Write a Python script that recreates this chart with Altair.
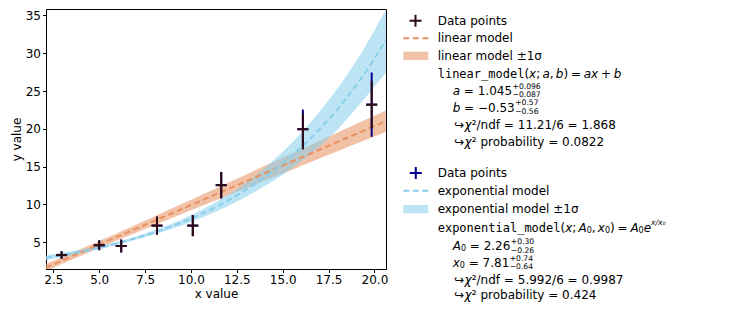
import altair as alt
import pandas as pd

# ---------------- data ----------------
x_pts = [2.95, 5.0, 6.2, 8.15, 10.1, 11.65, 16.1, 19.85]
y_pts = [3.3, 4.6, 4.5, 7.2, 7.2, 12.55, 19.95, 23.2]
x_err = [0.3, 0.3, 0.3, 0.3, 0.3, 0.3, 0.3, 0.3]
lin_err_up = [0.5, 0.65, 0.85, 1.2, 1.4, 1.75, 2.1, 3.1]
lin_err_dn = [0.5, 0.65, 0.85, 1.2, 1.4, 1.75, 2.65, 3.1]
exp_err_up = [0.5, 0.65, 0.85, 1.2, 1.4, 1.75, 2.6, 4.25]
exp_err_dn = [0.5, 0.65, 0.85, 1.2, 1.4, 1.75, 2.65, 4.25]

curve_x = [2.1, 4, 6, 8, 10, 12, 14, 16, 18, 19.3, 20.65]
lin_mid = [1.66, 3.65, 5.74, 7.83, 9.92, 12.01, 14.10, 16.19, 18.28, 19.64, 21.05]
lin_lo = [1.20, 3.21, 5.26, 7.25, 9.22, 11.18, 13.13, 15.09, 17.04, 18.31, 19.65]
lin_hi = [2.12, 4.09, 6.22, 8.41, 10.62, 12.84, 15.07, 17.29, 19.52, 20.97, 22.45]
exp_mid = [2.96, 3.77, 4.87, 6.30, 8.13, 10.50, 13.57, 17.53, 22.65, 26.76, 31.8]
exp_lo = [2.63, 3.55, 4.67, 6.02, 7.68, 9.75, 12.4, 15.65, 19.95, 23.5, 27.5]
exp_hi = [3.29, 3.99, 5.07, 6.58, 8.58, 11.25, 14.8, 19.45, 25.4, 30.1, 35.9]

x_ticks = [2.5, 5, 7.5, 10, 12.5, 15, 17.5, 20]
y_ticks = [5, 10, 15, 20, 25, 30, 35]

# ---------------- styles ----------------
DARK = "#2e0a12"
NAVY = "#00008b"
ORANGE_LINE = "#e8905f"
ORANGE_FILL = "#e8905f"
BLUE_LINE = "#87ceeb"
BLUE_FILL = "#87ceeb"
FILL_OP = 0.55
FONT = "DejaVu Sans"
MONO = "DejaVu Sans Mono"

W_PX, H_PX = 340, 260

pts = pd.DataFrame({"x": x_pts, "y": y_pts, "xe": x_err,
                    "lu": lin_err_up, "ld": lin_err_dn,
                    "eu": exp_err_up, "ed": exp_err_dn})
pts["xlo"] = pts["x"] - pts["xe"]
pts["xhi"] = pts["x"] + pts["xe"]
pts["lin_ylo"] = pts["y"] - pts["ld"]
pts["lin_yhi"] = pts["y"] + pts["lu"]
pts["exp_ylo"] = pts["y"] - pts["ed"]
pts["exp_yhi"] = pts["y"] + pts["eu"]

curves = pd.DataFrame({"x": curve_x, "lin_mid": lin_mid, "lin_lo": lin_lo, "lin_hi": lin_hi,
                       "exp_mid": exp_mid, "exp_lo": exp_lo, "exp_hi": exp_hi})

xs = alt.Scale(domain=[2.1, 20.63], nice=False, zero=False)
ys = alt.Scale(domain=[1.46, 35.85], nice=False, zero=False)
xaxis = alt.Axis(values=x_ticks, format=".1f", title="x value", labelPadding=2, titlePadding=3)
yaxis = alt.Axis(values=y_ticks, format="d", title="y value", labelPadding=2, titlePadding=2)


def X(f):
    return alt.X(f"{f}:Q", scale=xs, axis=xaxis, title="x value")


def Y(f):
    return alt.Y(f"{f}:Q", scale=ys, axis=yaxis, title="y value")


base_c = alt.Chart(curves)
base_p = alt.Chart(pts)

lin_band = base_c.mark_area(color=ORANGE_FILL, opacity=FILL_OP, clip=True, interpolate="monotone").encode(
    x=X("x"), y=Y("lin_lo"), y2="lin_hi:Q")
exp_band = base_c.mark_area(color=BLUE_FILL, opacity=FILL_OP, clip=True, interpolate="monotone").encode(
    x=X("x"), y=Y("exp_lo"), y2="exp_hi:Q")
lin_line = base_c.mark_line(color=ORANGE_LINE, strokeWidth=2, strokeDash=[6, 3.5], clip=True).encode(
    x=X("x"), y=Y("lin_mid"))
exp_line = base_c.mark_line(color=BLUE_LINE, strokeWidth=2, strokeDash=[6, 3.5], clip=True,
                            interpolate="monotone").encode(x=X("x"), y=Y("exp_mid"))

exp_v = base_p.mark_rule(color=NAVY, strokeWidth=2, clip=True).encode(x=X("x"), y=Y("exp_ylo"), y2="exp_yhi:Q")
exp_h = base_p.mark_rule(color=NAVY, strokeWidth=2, clip=True).encode(x=X("xlo"), x2="xhi:Q", y=Y("y"))
lin_v = base_p.mark_rule(color=DARK, strokeWidth=2, clip=True).encode(x=X("x"), y=Y("lin_ylo"), y2="lin_yhi:Q")
lin_h = base_p.mark_rule(color=DARK, strokeWidth=2, clip=True).encode(x=X("xlo"), x2="xhi:Q", y=Y("y"))

# ---------------- legend (text layout) ----------------
one = pd.DataFrame({"k": [0]})

WID = {' ': 0.318, '.': 0.318, '=': 0.838, '+': 0.838, '−': 0.838, '(': 0.390, ')': 0.390,
       ';': 0.337, ',': 0.318, '/': 0.337, 'a': 0.613, 'b': 0.635, 'x': 0.592, 'A': 0.684,
       'e': 0.615, 'χ': 0.6, '↪': 0.838, '²': 0.4, '₀': 0.4, 'n': 0.634, 'd': 0.635,
       'f': 0.352, 'p': 0.635, 'r': 0.411, 'o': 0.612, 'i': 0.278, 'l': 0.278, 't': 0.392,
       'y': 0.592}

SS = 7.6  # script font size


def tw(s, size, mono=False):
    if mono:
        return len(s) * 0.602 * size
    return sum(WID.get(c, 0.636 if c.isdigit() else 0.6) for c in s) * size


def txt(s, x, y, size=12, style="normal", font=FONT):
    return alt.Chart(one).mark_text(text=s, font=font, fontSize=size, fontStyle=style, align="left",
                                    baseline="middle", color="black").encode(x=alt.value(x), y=alt.value(y))


def layout(items, x0, y0):
    out = []
    x = x0
    for it in items:
        if isinstance(it, (int, float)):
            x += it
            continue
        kind = it[0]
        if kind == "script":
            out.append(txt(it[1], x, y0 - 4.4, size=SS))
            out.append(txt(it[2], x, y0 + 4.2, size=SS))
            x += max(tw(it[1], SS), tw(it[2], SS))
        elif kind == "supi":
            out.append(txt(it[1], x, y0 - 5, size=SS, style="italic"))
            x += tw(it[1], SS)
        elif kind == "sub":
            out.append(txt(it[1], x, y0 + 3, size=SS + 0.4))
            x += tw(it[1], SS + 0.4)
        elif kind == "m":
            out.append(txt(it[1], x, y0, size=12, font=MONO))
            x += tw(it[1], 12, mono=True)
        elif kind == "i":
            out.append(txt(it[1], x, y0, size=12, style="italic"))
            x += tw(it[1], 12)
        else:
            out.append(txt(it[1], x, y0, size=12))
            x += tw(it[1], 12)
    return out


def plus(x, y, color):
    return alt.Chart(one).mark_point(shape="M-1,0H1M0,-1V1", size=144, filled=False, strokeWidth=2,
                                     color=color, opacity=1).encode(x=alt.value(x), y=alt.value(y))


def dash(x1, x2, y, color):
    return alt.Chart(one).mark_rule(color=color, strokeWidth=2, strokeDash=[6, 3.5]).encode(
        x=alt.value(x1), x2=alt.value(x2), y=alt.value(y))


def swatch(x1, x2, y1, y2, color):
    return alt.Chart(one).mark_rect(color=color, opacity=FILL_OP).encode(
        x=alt.value(x1), x2=alt.value(x2), y=alt.value(y1), y2=alt.value(y2))


TX = 391.7
PX = 406.7
CX = 408.0
SX1, SX2 = 357.3, 382.3
G = 3.8  # space around "="
legend = []
# block 1
legend += [plus(369.5, 11.8, DARK), txt("Data points", TX, 11.7)]
legend += [dash(SX1, SX2, 29.3, ORANGE_LINE), txt("linear model", TX, 29.3)]
legend += [swatch(SX1, SX2, 42.7, 51.0, ORANGE_FILL), txt("linear model ±1σ", TX, 46.7)]
legend += layout([("m", "linear_model"), ("r", "("), ("i", "x"), ("r", ";"), 2.2, ("i", "a"), ("r", ","), 2.2,
                  ("i", "b"), ("r", ")"), 2.8, ("r", "="), 2.8, ("i", "ax"), 2.8, ("r", "+"), 2.8, ("i", "b")],
                 TX, 65)
legend += layout([("i", "a"), G, ("r", "="), G, ("r", "1.045"), 0.5, ("script", "+0.096", "−0.087")], PX, 82)
legend += layout([("i", "b"), G, ("r", "="), G, ("r", "−0.53"), 0.5, ("script", "+0.57", "−0.56")], PX, 98.5)
legend += layout([("r", "↪"), 0.5, ("i", "χ"), ("r", "²/ndf = 11.21/6 = 1.868")], CX, 116.3)
legend += layout([("r", "↪"), 0.5, ("i", "χ"), ("r", "² probability = 0.0822")], CX, 132.7)
# block 2
legend += [plus(369.8, 164.0, NAVY), txt("Data points", TX, 163.7)]
legend += [dash(SX1, SX2, 181.7, BLUE_LINE), txt("exponential model", TX, 181.7)]
legend += [swatch(SX1, SX2, 196.0, 204.3, BLUE_FILL), txt("exponential model ±1σ", TX, 200)]
legend += layout([("m", "exponential_model"), ("r", "("), ("i", "x"), ("r", ";"), 2.2, ("i", "A"), ("sub", "0"),
                  ("r", ","), 2.2, ("i", "x"), ("sub", "0"), ("r", ")"), 2.8, ("r", "="), 2.8, ("i", "A"),
                  ("sub", "0"), ("i", "e"), ("supi", "x/x₀")], TX, 219.3)
legend += layout([("i", "A"), ("sub", "0"), G, ("r", "="), G, ("r", "2.26"), 0.5,
                  ("script", "+0.30", "−0.26")], PX, 237.4)
legend += layout([("i", "x"), ("sub", "0"), G, ("r", "="), G, ("r", "7.81"), 0.5,
                  ("script", "+0.74", "−0.64")], PX, 254.0)
legend += layout([("r", "↪"), 0.5, ("i", "χ"), ("r", "²/ndf = 5.992/6 = 0.9987")], CX, 270.5)
legend += layout([("r", "↪"), 0.5, ("i", "χ"), ("r", "² probability = 0.424")], CX, 286.0)

chart = alt.layer(
    lin_band, exp_band, lin_line, exp_line, exp_v, exp_h, lin_v, lin_h, *legend
).properties(
    width=W_PX, height=H_PX,
    autosize=alt.AutoSizeParams(type="none"),
    padding={"left": 38, "top": 1, "right": 330, "bottom": 35},
).configure_view(
    stroke="black", strokeWidth=1
).configure_axis(
    domainColor="black", tickColor="black", labelColor="black", titleColor="black",
    labelFont=FONT, titleFont=FONT, labelFontSize=12, titleFontSize=12, titleFontWeight="normal",
    tickSize=3.5, grid=False, domainWidth=1, tickWidth=1
)

chart.save("out.html", embed_options={"renderer": "svg", "actions": False})
